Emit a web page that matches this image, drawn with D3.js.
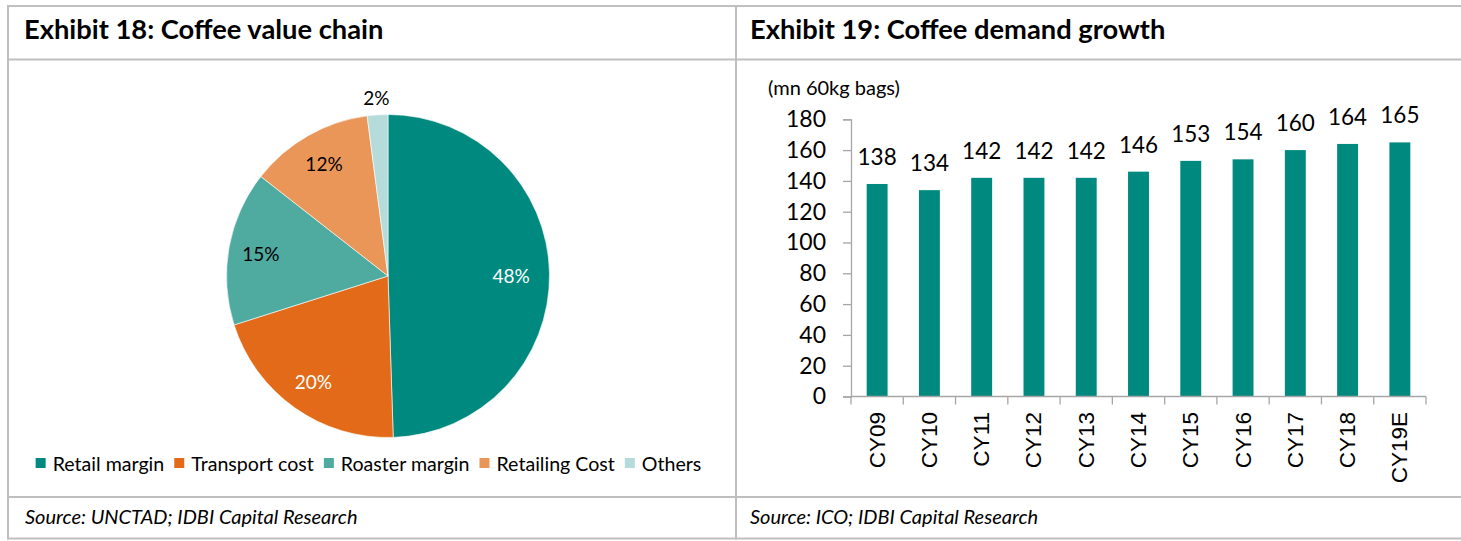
<!DOCTYPE html>
<html>
<head>
<meta charset="utf-8">
<script src="https://cdn.jsdelivr.net/npm/d3@7"></script>
<style>
  body { margin: 0; background: #fff; }
  svg { display: block; font-family: Lato, "Open Sans", sans-serif; }
</style>
</head>
<body>
<div id="wrapper"></div>
<script>
// pie data (Exhibit 18)
const pieLabels = ["Retail margin", "Transport cost", "Roaster margin", "Retailing Cost", "Others"]
const pieValues = [48, 20, 15, 12, 2]
const pieColors = ["#00897f", "#e36a18", "#4faaa0", "#eb9659", "#b5dcdb"]
const pieTextColors = ["#fff", "#fff", "#000", "#000", "#000"]

// bar data (Exhibit 19)
const years = ["CY09", "CY10", "CY11", "CY12", "CY13", "CY14", "CY15", "CY16", "CY17", "CY18", "CY19E"]
const demand = [138, 134, 142, 142, 142, 146, 153, 154, 160, 164, 165]
const yTicks = [0, 20, 40, 60, 80, 100, 120, 140, 160, 180]

function draw() {
  const width = 1461
  const height = 541
  const gridColor = "#bfbfbf"

  const svg = d3.select("#wrapper")
    .append("svg")
      .attr("width", width)
      .attr("height", height)

  // 1. table frame
  const hLines = [6, 59.5, 497, 538.5]
  svg.selectAll(".hline")
    .data(hLines)
    .enter().append("line")
      .attr("x1", 7).attr("x2", width)
      .attr("y1", d => d).attr("y2", d => d)
      .attr("stroke", gridColor)
      .attr("stroke-width", 2)
  ;[8, 736].forEach(x => {
    svg.append("line")
      .attr("x1", x).attr("x2", x)
      .attr("y1", 5).attr("y2", 539.5)
      .attr("stroke", gridColor)
      .attr("stroke-width", 2)
  })

  // titles + sources
  const titles = [
    {x: 24, text: "Exhibit 18: Coffee value chain"},
    {x: 750, text: "Exhibit 19: Coffee demand growth"},
  ]
  svg.selectAll(".title")
    .data(titles)
    .enter().append("text")
      .attr("x", d => d.x)
      .attr("y", 38.5)
      .attr("font-size", 27.3)
      .attr("font-weight", 700)
      .attr("fill", "#000")
      .text(d => d.text)

  const sources = [
    {x: 25, text: "Source: UNCTAD; IDBI Capital Research"},
    {x: 750, text: "Source: ICO; IDBI Capital Research"},
  ]
  svg.selectAll(".source")
    .data(sources)
    .enter().append("text")
      .attr("x", d => d.x)
      .attr("y", 524)
      .attr("font-size", 20)
      .attr("font-style", "italic")
      .attr("fill", "#000")
      .text(d => d.text)

  // 2. pie
  const cx = 388, cy = 276, r = 161.5
  const pieGen = d3.pie().sort(null).value(d => d)
  const arcs = pieGen(pieValues)
  const arcGen = d3.arc().innerRadius(0).outerRadius(r)
  const pieG = svg.append("g")
    .attr("transform", `translate(${cx},${cy})`)

  pieG.selectAll("path")
    .data(arcs)
    .enter().append("path")
      .attr("d", arcGen)
      .attr("fill", (d, i) => pieColors[i])
      .attr("stroke", "#fff")
      .attr("stroke-width", 0.6)

  const labelArc = d3.arc().innerRadius(r * 0.8).outerRadius(r * 0.8)
  const outerArc = d3.arc().innerRadius(r * 1.11).outerRadius(r * 1.11)
  pieG.selectAll(".plabel")
    .data(arcs)
    .enter().append("text")
      .attr("transform", (d, i) => {
        const c = (d.endAngle - d.startAngle) < 0.2 ? outerArc.centroid(d) : labelArc.centroid(d)
        if (i === 0) { c[0] -= 6; c[1] += 2 }
        return `translate(${c[0]},${c[1]})`
      })
      .attr("text-anchor", "middle")
      .attr("dominant-baseline", "central")
      .attr("font-size", 19)
      .attr("fill", (d, i) => pieTextColors[i])
      .text(d => d.data + "%")

  // legend, laid out from measured text widths, centred under the pie
  const legend = svg.append("g")
  let lx = 0
  pieLabels.forEach((name, i) => {
    legend.append("rect")
      .attr("x", lx).attr("y", 458)
      .attr("width", 10).attr("height", 10)
      .attr("fill", pieColors[i])
    const t = legend.append("text")
      .attr("x", lx + 17)
      .attr("y", 470.5)
      .attr("font-size", 19.6)
      .attr("fill", "#000")
      .text(name)
    lx += 17 + t.node().getComputedTextLength() + 10
  })
  const legendW = lx - 10
  legend.attr("transform", `translate(${368.5 - legendW / 2},0)`)

  // 3. bars
  const x0 = 851, x1 = 1426
  const xScale = d3.scaleBand()
    .domain(years)
    .range([x0, x1])
    .paddingInner(0.6)
    .paddingOuter(0.3)

  const yScale = d3.scaleLinear()
    .domain([0, 180])
    .range([396.5, 119.3])

  const bars = svg.append("g")
  bars.selectAll("rect")
    .data(demand)
    .enter().append("rect")
      .attr("x", (d, i) => xScale(years[i]))
      .attr("y", d => yScale(d))
      .attr("width", xScale.bandwidth())
      .attr("height", d => yScale(0) - yScale(d))
      .attr("fill", "#00897f")

  bars.selectAll(".vlabel")
    .data(demand)
    .enter().append("text")
      .attr("x", (d, i) => xScale(years[i]) + xScale.bandwidth() / 2)
      .attr("y", d => yScale(d) - 19)
      .attr("text-anchor", "middle")
      .attr("font-size", 22.5)
      .attr("fill", "#000")
      .text(d => d)

  // y axis
  const yAxis = svg.append("g")
    .attr("transform", `translate(${x0},0)`)
    .call(d3.axisLeft(yScale).tickValues(yTicks).tickSize(8).tickPadding(17))
  yAxis.select(".domain").attr("stroke", "#a6a6a6").attr("stroke-width", 1.3)
  yAxis.selectAll(".tick line").attr("stroke", "#a6a6a6").attr("stroke-width", 1.3)
  yAxis.selectAll(".tick text")
    .attr("font-family", "Lato, sans-serif")
    .attr("font-size", 23)
    .attr("fill", "#000")

  // x axis: ticks between categories
  const xAxisG = svg.append("g")
  xAxisG.append("line")
    .attr("x1", x0).attr("x2", x1)
    .attr("y1", yScale(0)).attr("y2", yScale(0))
    .attr("stroke", "#a6a6a6").attr("stroke-width", 1.3)
  const boundaries = d3.range(years.length + 1).map(i => x0 + (x1 - x0) * i / years.length)
  xAxisG.selectAll(".xt")
    .data(boundaries)
    .enter().append("line")
      .attr("x1", d => d).attr("x2", d => d)
      .attr("y1", yScale(0)).attr("y2", yScale(0) + 8)
      .attr("stroke", "#a6a6a6").attr("stroke-width", 1.3)

  xAxisG.selectAll(".xl")
    .data(years)
    .enter().append("text")
      .attr("transform", d => `translate(${xScale(d) + xScale.bandwidth() / 2},412) rotate(-90)`)
      .attr("text-anchor", "end")
      .attr("dominant-baseline", "central")
      .attr("font-family", "'Liberation Sans', Arial, sans-serif")
      .attr("font-size", 22.5)
      .attr("fill", "#000")
      .text(d => d)

  svg.append("text")
    .attr("x", 768)
    .attr("y", 95)
    .attr("font-size", 20)
    .attr("fill", "#000")
    .text("(mn 60kg bags)")
}
draw()
</script>
</body>
</html>
